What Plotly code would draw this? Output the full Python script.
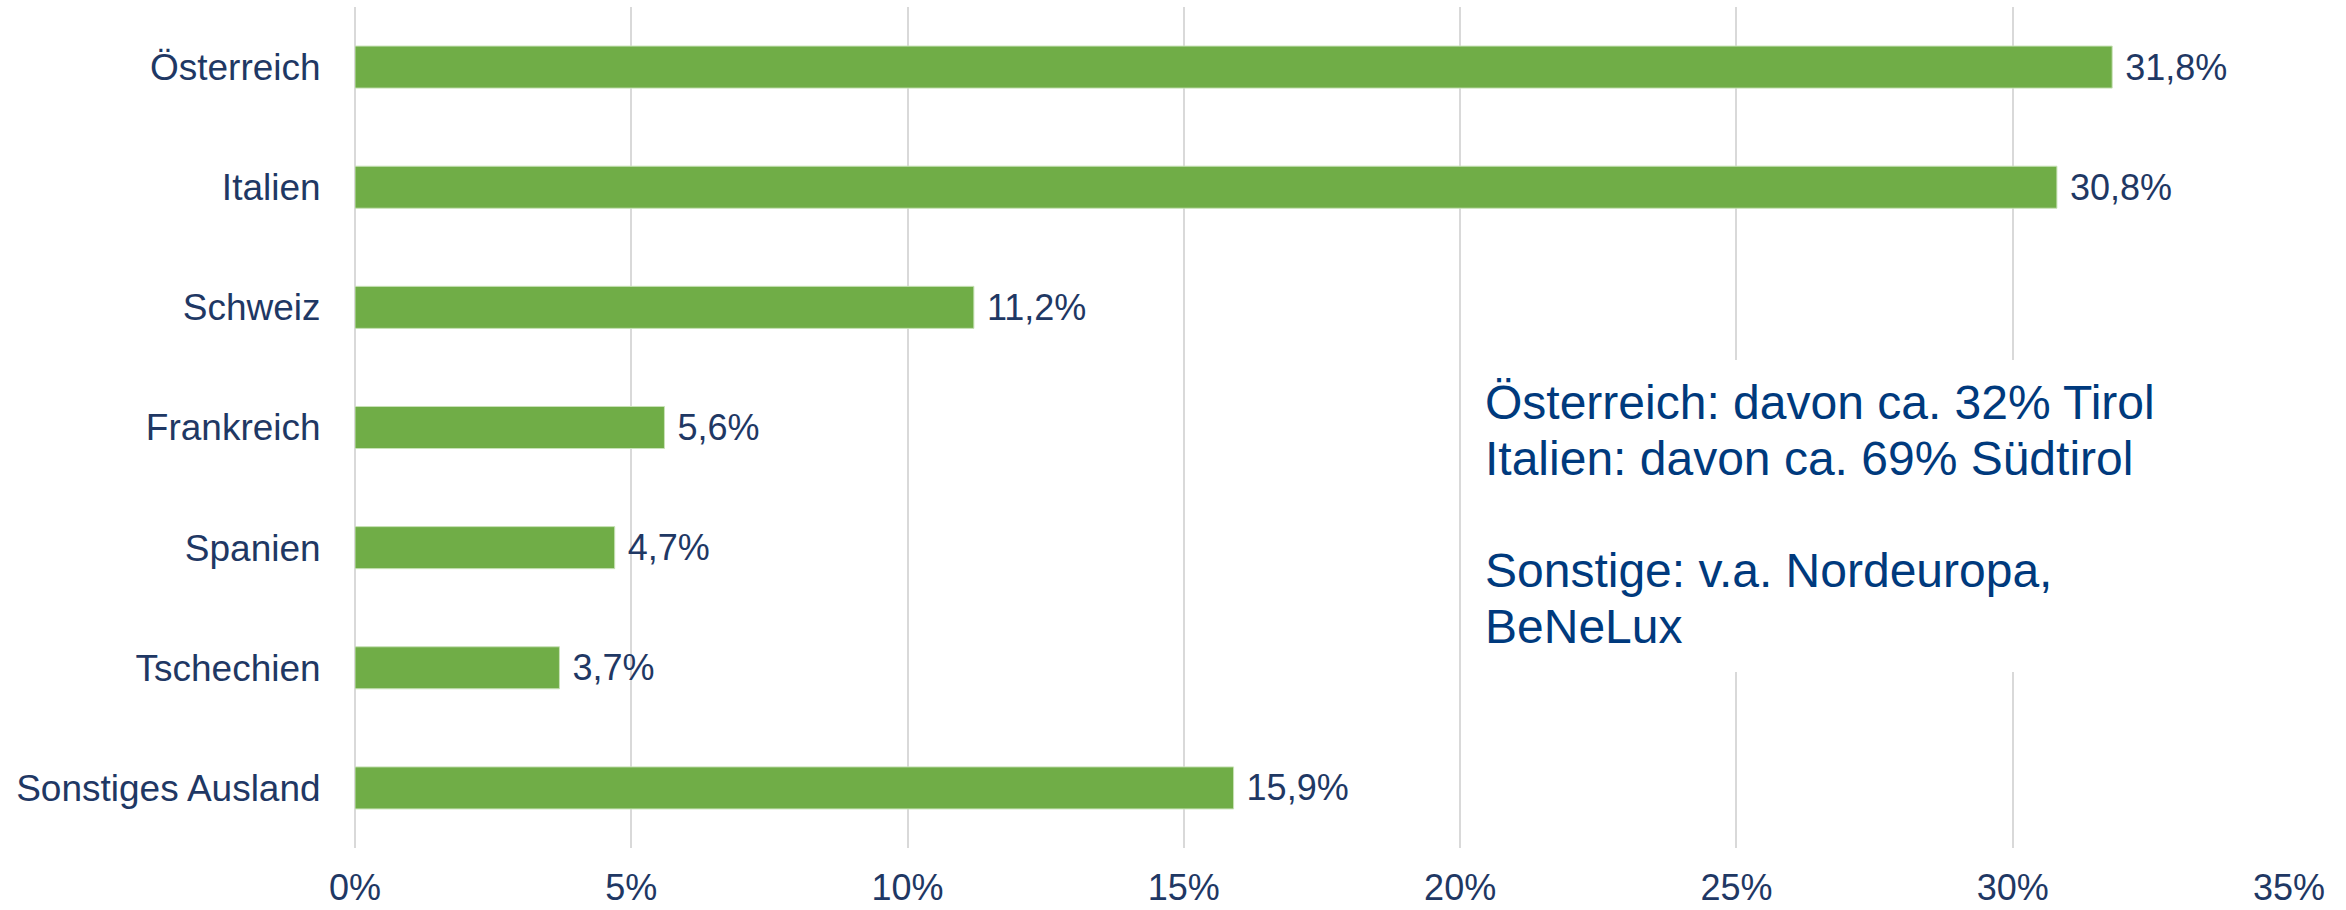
import plotly.graph_objects as go

categories = ["Österreich", "Italien", "Schweiz", "Frankreich", "Spanien", "Tschechien", "Sonstiges Ausland"]
values = [31.8, 30.8, 11.2, 5.6, 4.7, 3.7, 15.9]
tick_values = [0, 5, 10, 15, 20, 25, 30, 35]
tick_labels = [f"{t}%" for t in tick_values]
note_lines = [
    "Österreich: davon ca. 32% Tirol",
    "Italien: davon ca. 69% Südtirol",
    "",
    "Sonstige: v.a. Nordeuropa,",
    "BeNeLux",
]

label_color = "#1F3864"
note_color = "#003A7D"
font_family = "Liberation Sans, Arial, sans-serif"

bar_text = [" " + f"{v:.1f}%".replace(".", ",") for v in values]

fig = go.Figure()
fig.add_trace(go.Bar(
    x=values,
    y=categories,
    orientation="h",
    width=0.35,
    marker=dict(color="#70AD47", line=dict(color="#C9E2B8", width=1)),
    text=bar_text,
    textposition="outside",
    textfont=dict(size=36, color=label_color, family=font_family),
    cliponaxis=False,
    hoverinfo="skip",
))

W, H = 2346, 910
L, R, T, B = 355, 57, 7, 62
pw, ph = W - L - R, H - T - B

def px_x(x):
    return (x - L) / pw

def px_y(y):
    return 1 - (y - T) / ph

# white box behind the note (covers gridlines)
fig.add_shape(type="rect", xref="paper", yref="paper",
              x0=px_x(1468), x1=px_x(2282), y0=px_y(672), y1=px_y(360),
              fillcolor="white", line=dict(width=0), layer="above")

line_y = [402, 458, 514, 570, 626]
for txt, yy in zip(note_lines, line_y):
    if not txt:
        continue
    fig.add_annotation(text=txt, xref="paper", yref="paper",
                       x=px_x(1483), y=px_y(yy), xanchor="left", yanchor="middle",
                       showarrow=False,
                       font=dict(size=48, color=note_color, family=font_family))

fig.update_layout(
    width=W, height=H,
    margin=dict(l=L, r=R, t=T, b=B, pad=0),
    plot_bgcolor="white", paper_bgcolor="white",
    showlegend=False,
    font=dict(family=font_family, color=label_color, size=36),
    xaxis=dict(
        range=[0, 35], tickvals=tick_values, ticktext=tick_labels,
        showgrid=True, gridcolor="#D9D9D9", gridwidth=1.5,
        zeroline=True, zerolinecolor="#D9D9D9", zerolinewidth=1.5,
        showline=False, automargin=False,
        ticks="outside", ticklen=8, tickcolor="rgba(0,0,0,0)",
        tickfont=dict(size=36, color=label_color, family=font_family),
        fixedrange=True,
    ),
    yaxis=dict(
        categoryorder="array", categoryarray=categories,
        range=[6.5, -0.5], automargin=False,
        showgrid=False, zeroline=False, showline=False,
        ticks="outside", ticklen=26, tickcolor="rgba(0,0,0,0)",
        tickfont=dict(size=37, color=label_color, family=font_family),
        fixedrange=True,
    ),
)

fig.write_html("out.html", config={"displayModeBar": False},
               post_script="document.body.style.margin='0';")
